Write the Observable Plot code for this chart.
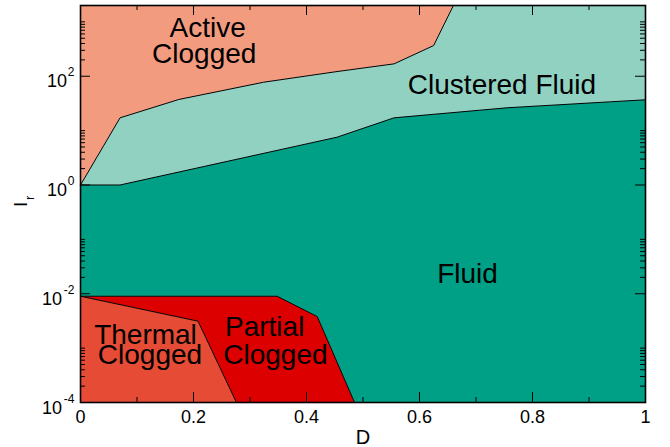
<!DOCTYPE html>
<html><head><meta charset="utf-8">
<script src="https://cdn.jsdelivr.net/npm/d3@7"></script>
<script src="https://cdn.jsdelivr.net/npm/@observablehq/plot@0.6"></script>
<style>body{margin:0;background:#fff} svg{display:block}</style>
</head><body><div id="chart"></div>
<script>
// ---- data ----
const xDomain = [0, 1];
const yDomain = [1e-4, 2000];
// Active Clogged / Clustered Fluid boundary
const upperD  = [0, 0.07, 0.174, 0.324, 0.454, 0.555, 0.625, 0.66];
const upperIr = [1, 17.2, 37.4, 77.6, 122, 169, 367, 2000];
// Clustered Fluid / Fluid boundary
const lowerD  = [0, 0.07, 0.454, 0.555, 0.755, 1];
const lowerIr = [1, 1, 7.57, 17.2, 26.3, 36.9];
// Fluid / Partial Clogged boundary
const partialD  = [0, 0.348, 0.419, 0.485];
const partialIr = [0.009, 0.009, 0.0038, 1e-4];
// Partial Clogged / Thermal Clogged boundary
const thermalD  = [0, 0.208, 0.276];
const thermalIr = [0.009, 0.00313, 1e-4];

const phases = ["Active Clogged", "Clustered Fluid", "Fluid", "Partial Clogged", "Thermal Clogged"];
const phaseColors = ["#F39B7F", "#91D1C2", "#00A087", "#DC0000", "#E64B35"];

const labelText = ["Active", "Clogged", "Clustered Fluid", "Fluid", "Thermal", "Clogged", "Partial", "Clogged"];
const labelD    = [0.225, 0.219, 0.746, 0.685, 0.115, 0.123, 0.326, 0.345];
const labelIr   = [516, 175, 47.5, 0.0161, 0.0012, 0.0005, 0.00167, 0.00051];

const xTicks = [0, 0.2, 0.4, 0.6, 0.8, 1];
const xTickLabels = ["0", "0.2", "0.4", "0.6", "0.8", "1"];
const xMinorTicks = [0.1, 0.3, 0.5, 0.7, 0.9];
const yTicks = [1e-4, 1e-2, 1, 100];
const yExponents = ["-4", "-2", "0", "2"];
const yMinorMultipliers = [2, 3, 4, 5, 6, 7, 8, 9, 10];

// ---- layout ----
const W = 670, H = 447, ml = 80, mr = 25, mt = 5, mb = 45;
const pw = W - ml - mr, ph = H - mt - mb;

const pts = (D, Ir) => D.map((d, i) => ({D: d, Ir: Ir[i]}));
const up = pts(upperD, upperIr), lo = pts(lowerD, lowerIr);
const pa = pts(partialD, partialIr), th = pts(thermalD, thermalIr);
const [x0, x1] = xDomain, [y0, y1] = yDomain;
const polys = [
  [...up, {D: x0, Ir: y1}],
  [...up, {D: x1, Ir: y1}, ...lo.slice().reverse()],
  [...lo, {D: x1, Ir: y0}, ...pa.slice().reverse()],
  [...pa, ...th.slice().reverse()],
  [...th, {D: x0, Ir: y0}]
];
const polyData = polys.flatMap((p, i) => p.map(q => ({...q, phase: phases[i]})));
const yMinor = yTicks.flatMap(t => yMinorMultipliers.map(k => k * t)).filter(v => v <= y1);
const yLab = yTicks.map((t, i) => ({t, e: yExponents[i]}));
const labels = labelText.map((t, i) => ({t, D: labelD[i], Ir: labelIr[i]}));
const xLab = xTicks.map((v, i) => ({v, t: xTickLabels[i]}));

const font = "'Liberation Sans', Arial, Helvetica, sans-serif";

const plot = Plot.plot({
  width: W, height: H,
  marginLeft: ml, marginRight: mr, marginTop: mt, marginBottom: mb,
  style: {fontFamily: font, background: "#fff", color: "black"},
  x: {domain: xDomain, axis: null},
  y: {type: "log", domain: yDomain, axis: null},
  color: {domain: phases, range: phaseColors},
  marks: [
    Plot.line(polyData, {x: "D", y: "Ir", z: "phase", fill: "phase", stroke: "none"}),
    Plot.line(up, {x: "D", y: "Ir", stroke: "black", strokeWidth: 1}),
    Plot.line(lo, {x: "D", y: "Ir", stroke: "black", strokeWidth: 1}),
    Plot.line(pa, {x: "D", y: "Ir", stroke: "black", strokeWidth: 1}),
    Plot.line(th, {x: "D", y: "Ir", stroke: "black", strokeWidth: 1}),
    // inward ticks
    Plot.tickY(yTicks, {y: d => d, insetRight: pw - 10, stroke: "black"}),
    Plot.tickY(yTicks, {y: d => d, insetLeft: pw - 10, stroke: "black"}),
    Plot.tickY(yMinor, {y: d => d, insetRight: pw - 5, stroke: "black"}),
    Plot.tickY(yMinor, {y: d => d, insetLeft: pw - 5, stroke: "black"}),
    Plot.tickX(xTicks, {x: d => d, insetTop: ph - 10, stroke: "black"}),
    Plot.tickX(xTicks, {x: d => d, insetBottom: ph - 10, stroke: "black"}),
    Plot.tickX(xMinorTicks, {x: d => d, insetTop: ph - 5, stroke: "black"}),
    Plot.tickX(xMinorTicks, {x: d => d, insetBottom: ph - 5, stroke: "black"}),
    // region labels
    Plot.text(labels, {x: "D", y: "Ir", text: "t", fontSize: 28, lineAnchor: "bottom", fill: "black"}),
    // y tick labels
    Plot.text(yLab.filter(d => !d.e.startsWith("-")), {y: "t", frameAnchor: "left", text: () => "10", textAnchor: "end", dx: -13.5, dy: 11, fontSize: 18, lineAnchor: "bottom", fill: "black"}),
    Plot.text(yLab.filter(d => d.e.startsWith("-")), {y: "t", frameAnchor: "left", text: () => "10", textAnchor: "end", dx: -18.5, dy: 11, fontSize: 18, lineAnchor: "bottom", fill: "black"}),
    Plot.text(yLab, {y: "t", frameAnchor: "left", text: "e", textAnchor: "end", dx: -6, dy: 0, fontSize: 12, lineAnchor: "bottom", fill: "black"}),
    // x tick labels
    Plot.text(xLab, {x: "v", frameAnchor: "bottom", text: "t", dy: 20, fontSize: 18, lineAnchor: "bottom", fill: "black"}),
    // axis titles
    Plot.text(["D"], {frameAnchor: "bottom", text: d => d, dy: 41, fontSize: 20, lineAnchor: "bottom", fill: "black"}),
    Plot.text(["I"], {frameAnchor: "left", text: d => d, rotate: -90, dx: -54, dy: 3, fontSize: 19, lineAnchor: "bottom", fill: "black"}),
    Plot.text(["r"], {frameAnchor: "left", text: d => d, rotate: -90, dx: -46.7, dy: -4, fontSize: 13, lineAnchor: "bottom", fill: "black"}),
    Plot.frame({stroke: "black", strokeWidth: 1.6})
  ]
});
document.getElementById("chart").appendChild(plot);
</script>
</body></html>
